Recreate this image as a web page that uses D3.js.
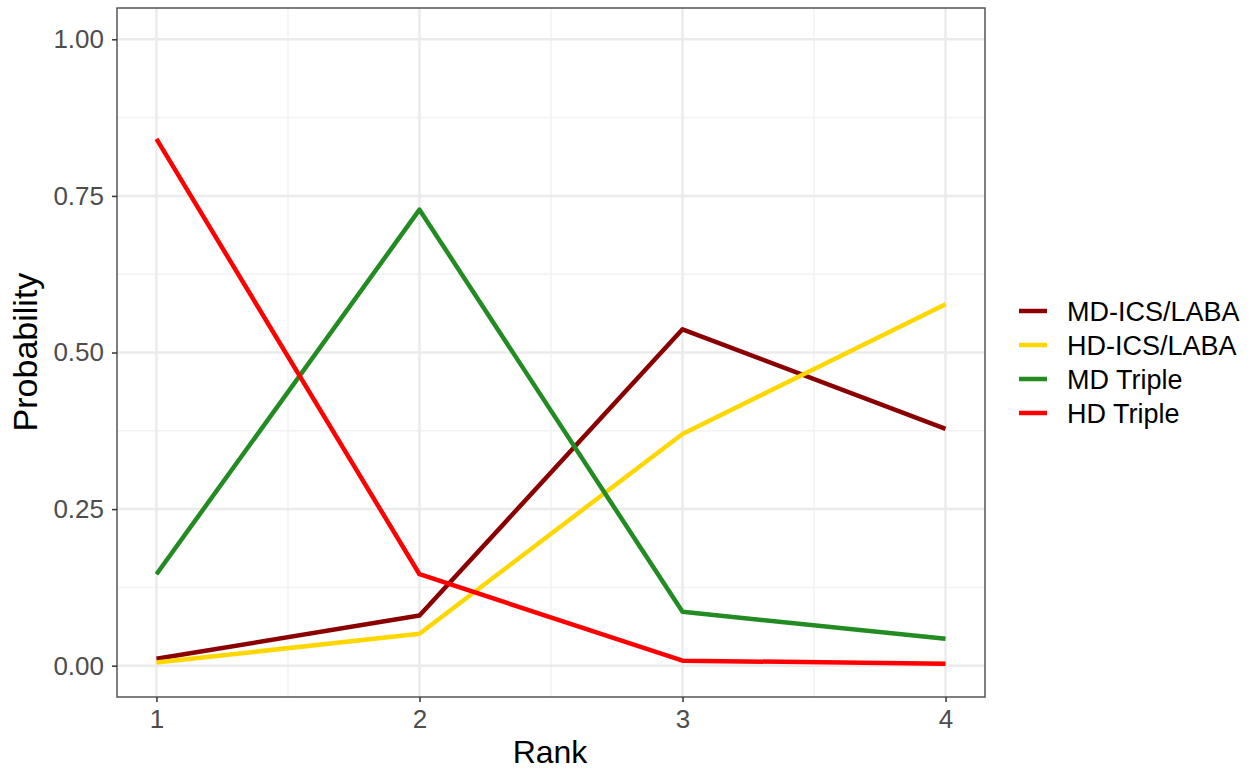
<!DOCTYPE html>
<html><head><meta charset="utf-8">
<script src="https://cdn.jsdelivr.net/npm/d3@7"></script>
<style>body{margin:0;background:#fff}svg{display:block;font-family:Arial,"Liberation Sans",sans-serif}</style>
</head><body><svg id="c" width="1260" height="771"></svg>
<script>
const ranks = [1, 2, 3, 4];
const seriesNames = ["MD-ICS/LABA", "HD-ICS/LABA", "MD Triple", "HD Triple"];
const seriesColors = ["#8B0000", "#FFD700", "#228B22", "#FF0000"];
const mdIcsLaba = [0.011, 0.080, 0.537, 0.378];
const hdIcsLaba = [0.005, 0.051, 0.370, 0.577];
const mdTriple = [0.146, 0.728, 0.086, 0.043];
const hdTriple = [0.841, 0.146, 0.008, 0.003];
const yTicks = [0, 0.25, 0.5, 0.75, 1.0];
const yMinor = [0.125, 0.375, 0.625, 0.875];
const xMinor = [1.5, 2.5, 3.5];
const seriesValues = [mdIcsLaba, hdIcsLaba, mdTriple, hdTriple];

const svg = d3.select("#c");
const L = 117, R = 985, T = 8, B = 697;
const x = d3.scaleLinear().domain([0.85, 4.15]).range([L, R]);
const y = d3.scaleLinear().domain([-0.05, 1.05]).range([B, T]);

const g = svg.append("g");
g.selectAll(".ym").data(yMinor).enter().append("line")
  .attr("x1", L).attr("x2", R).attr("y1", d => y(d)).attr("y2", d => y(d))
  .attr("stroke", "#f2f2f2").attr("stroke-width", 1.5);
g.selectAll(".xm").data(xMinor).enter().append("line")
  .attr("y1", T).attr("y2", B).attr("x1", d => x(d)).attr("x2", d => x(d))
  .attr("stroke", "#f2f2f2").attr("stroke-width", 1.5);
g.selectAll(".yM").data(yTicks).enter().append("line")
  .attr("x1", L).attr("x2", R).attr("y1", d => y(d)).attr("y2", d => y(d))
  .attr("stroke", "#ebebeb").attr("stroke-width", 2.5);
g.selectAll(".xM").data(ranks).enter().append("line")
  .attr("y1", T).attr("y2", B).attr("x1", d => x(d)).attr("x2", d => x(d))
  .attr("stroke", "#ebebeb").attr("stroke-width", 2.5);

const line = d3.line().x((d, i) => x(ranks[i])).y(d => y(d));
seriesValues.forEach((vals, k) => {
  svg.append("path").datum(vals).attr("d", line)
    .attr("fill", "none").attr("stroke", seriesColors[k]).attr("stroke-width", 4.5)
    .attr("stroke-linejoin", "round");
});

svg.append("rect").attr("x", L).attr("y", T).attr("width", R - L).attr("height", B - T)
  .attr("fill", "none").attr("stroke", "#555").attr("stroke-width", 1.5);

const yAxis = svg.append("g").attr("transform", `translate(${L},0)`)
  .call(d3.axisLeft(y).tickValues(yTicks).tickFormat(d3.format(".2f")).tickSizeOuter(0).tickSize(5).tickPadding(8));
const xAxis = svg.append("g").attr("transform", `translate(0,${B})`)
  .call(d3.axisBottom(x).tickValues(ranks).tickFormat(d3.format("d")).tickSizeOuter(0).tickSize(5).tickPadding(8));
[yAxis, xAxis].forEach(a => {
  a.select(".domain").remove();
  a.selectAll(".tick line").attr("stroke", "#333").attr("stroke-width", 1.5);
  a.selectAll(".tick text").attr("fill", "#4d4d4d").attr("font-size", 26)
    .attr("font-family", "Arial, 'Liberation Sans', sans-serif");
});

svg.append("text").attr("x", 550).attr("y", 763).attr("text-anchor", "middle")
  .attr("font-size", 32).attr("fill", "#000").text("Rank");
svg.append("text").attr("transform", "translate(37,352) rotate(-90)").attr("text-anchor", "middle")
  .attr("font-size", 34).attr("fill", "#000").text("Probability");

const lg = svg.append("g");
seriesNames.forEach((n, i) => {
  const cy = 311 + i * 34;
  lg.append("line").attr("x1", 1019).attr("x2", 1047).attr("y1", cy).attr("y2", cy)
    .attr("stroke", seriesColors[i]).attr("stroke-width", 4.5);
  lg.append("text").attr("x", 1067).attr("y", cy).attr("dy", "0.36em")
    .attr("font-size", 27).attr("fill", "#000").text(n);
});
</script></body></html>
